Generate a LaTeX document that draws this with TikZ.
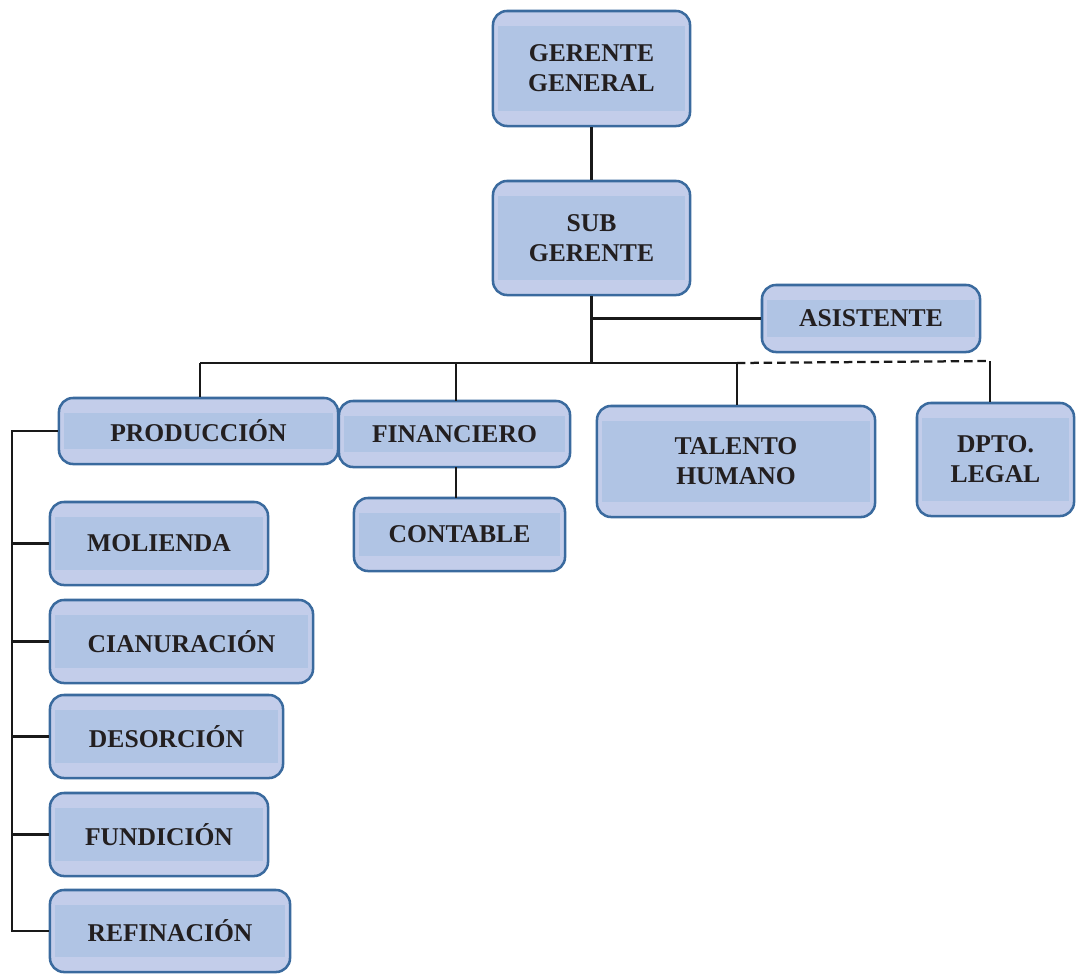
\documentclass[tikz,border=0pt]{standalone}
\usepackage{fontspec}
\setmainfont{Liberation Serif}
\usetikzlibrary{calc}
\definecolor{BoxOuter}{HTML}{C3CDEA}
\definecolor{BoxInner}{HTML}{B0C4E4}
\definecolor{BoxEdge}{HTML}{3A6A9E}
\definecolor{TxtClr}{HTML}{231F20}

\tikzset{
  unit/.style={draw=BoxEdge,line width=1.8pt,fill=BoxOuter,rounded corners=0.35cm,
    inner sep=0pt,align=center,text=TxtClr,
    font=\fontsize{18.2}{21.3}\selectfont\bfseries,
    path picture={\fill[BoxInner,sharp corners]
      ([shift={(0.13cm,-0.37cm)}]path picture bounding box.north west) rectangle
      ([shift={(-0.13cm,0.37cm)}]path picture bounding box.south east);}},
  link/.style={line width=1.6pt,black!90}
}

\begin{document}
\begin{tikzpicture}[x=0.025cm,y=-0.025cm]
\useasboundingbox (0,0) rectangle (1076,974);

% direccion
\node[unit,minimum width=4.925cm,minimum height=2.875cm] (gg) at (591.5,68.5) {GERENTE\\GENERAL};
\node[unit,minimum width=4.925cm,minimum height=2.85cm] (sg) at (591.5,238) {SUB\\GERENTE};
\node[unit,minimum width=5.45cm,minimum height=1.675cm] (asis) at (871,318.5) {ASISTENTE};

% areas
\node[unit,minimum width=6.975cm,minimum height=1.65cm] (prod) at (198.5,431) {PRODUCCIÓN};
\node[unit,minimum width=5.775cm,minimum height=1.65cm] (fin) at (454.5,434) {FINANCIERO};
\node[unit,minimum width=5.275cm,minimum height=1.825cm] (cont) at (459.5,534.5) {CONTABLE};
\node[unit,minimum width=6.95cm,minimum height=2.775cm] (tal) at (736,461.5) {TALENTO\\HUMANO};
\node[unit,minimum width=3.925cm,minimum height=2.825cm] (leg) at (995.5,459.5) {DPTO.\\LEGAL};

% produccion
\node[unit,minimum width=5.45cm,minimum height=2.075cm] (mol) at (159,543.5) {MOLIENDA};
\node[unit,minimum width=6.575cm,minimum height=2.075cm] (cian) at (181.5,641.5) {CIANURACIÓN};
\node[unit,minimum width=5.825cm,minimum height=2.075cm] (des) at (166.5,736.5) {DESORCIÓN};
\node[unit,minimum width=5.45cm,minimum height=2.075cm] (fun) at (159,834.5) {FUNDICIÓN};
\node[unit,minimum width=6cm,minimum height=2.05cm] (ref) at (170,931) {REFINACIÓN};

\coordinate (busL) at (200,363);
\coordinate (busM) at (737,363);
\coordinate (busR) at (990,361);
\coordinate (spine) at (12,431);

\draw[link] (gg) -- (sg);
\draw[link] (sg.south) -- (sg.south |- busL);
\draw[link] (sg.south |- asis.west) -- (asis.west);
\draw[link] (busL) -- (busM);
\draw[link,dash pattern=on 6pt off 3.5pt] (busM) -- (busR);
\draw[link] (busL) -- (busL |- prod.north);
\draw[link] (456,363) -- (456,401);
\draw[link] (busM) -- (busM |- tal.north);
\draw[link] (busR) -- (busR |- leg.north);
\draw[link] (456,467) -- (456,498);

\draw[link] (prod.west) -- (spine) |- (ref.west);
\foreach \b in {mol,cian,des,fun}
  \draw[link] (spine |- \b.west) -- (\b.west);

\end{tikzpicture}
\end{document}
